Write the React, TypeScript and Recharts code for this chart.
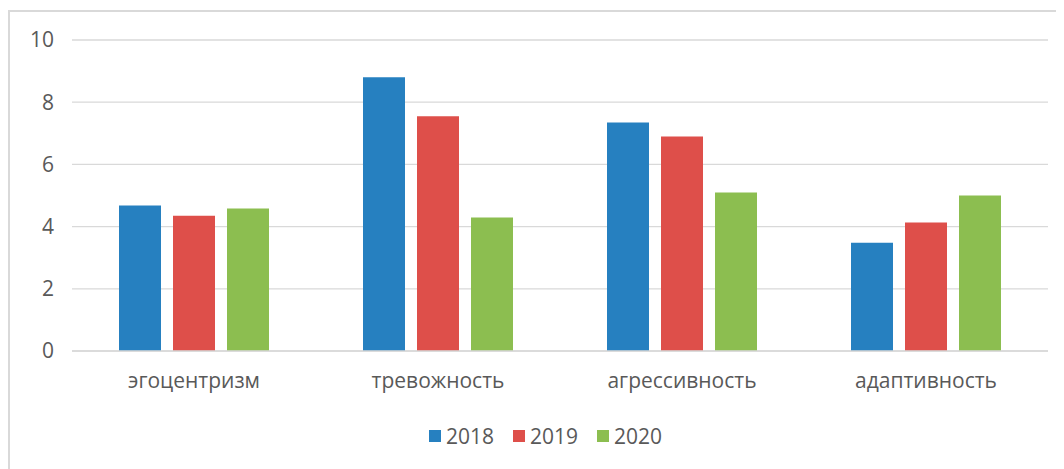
import { BarChart, Bar, XAxis, YAxis, CartesianGrid, Legend } from "recharts";

const categories = ["эгоцентризм", "тревожность", "агрессивность", "адаптивность"];
const values2018 = [4.68, 8.8, 7.35, 3.48];
const values2019 = [4.35, 7.55, 6.9, 4.13];
const values2020 = [4.58, 4.29, 5.1, 5.0];
const yTicks = [0, 2, 4, 6, 8, 10];

const SERIES = [
  { key: "2018", color: "#2680C0" },
  { key: "2019", color: "#DE4F4A" },
  { key: "2020", color: "#8CBE50" },
];

const FONT = "'Open Sans', 'DejaVu Sans', sans-serif";
const TEXT = "#595959";

const data = categories.map((name, i) => ({
  name,
  "2018": values2018[i],
  "2019": values2019[i],
  "2020": values2020[i],
}));

function LegendContent() {
  return (
    <div
      style={{
        display: "flex",
        justifyContent: "center",
        alignItems: "center",
        gap: 19,
        fontFamily: FONT,
        fontSize: 21,
        color: TEXT,
        height: 30,
        paddingLeft: 33,
      }}
    >
      {SERIES.map((s) => (
        <div key={s.key} style={{ display: "flex", alignItems: "center", gap: 5 }}>
          <span style={{ width: 12, height: 12, background: s.color, display: "inline-block" }} />
          <span>{s.key}</span>
        </div>
      ))}
    </div>
  );
}

export default function App() {
  return (
    <div
      style={{
        marginTop: 2,
        width: 1056,
        height: 459,
        borderTop: "2px solid #d9d9d9",
        borderLeft: "2px solid #d9d9d9",
        boxSizing: "border-box",
        background: "#fff",
      }}
    >
      <BarChart
        width={1044}
        height={455}
        data={data}
        margin={{ top: 28, right: 6, left: 0, bottom: 16 }}
        barGap={12}
        barSize={42}
      >
        <CartesianGrid vertical={false} stroke="#d9d9d9" strokeWidth={1.3} />
        <XAxis
          dataKey="name"
          height={70}
          tickLine={false}
          axisLine={{ stroke: "#d9d9d9", strokeWidth: 1.3 }}
          tickMargin={16}
          tick={{ fill: TEXT, fontSize: 21, fontFamily: FONT }}
        />
        <YAxis
          width={62}
          domain={[0, 10]}
          ticks={yTicks}
          tickLine={false}
          axisLine={false}
          tickMargin={12}
          tick={{ fill: TEXT, fontSize: 21, fontFamily: FONT }}
        />
        <Legend verticalAlign="bottom" height={30} content={<LegendContent />} />
        {SERIES.map((s) => (
          <Bar key={s.key} dataKey={s.key} fill={s.color} isAnimationActive={false} />
        ))}
      </BarChart>
    </div>
  );
}
